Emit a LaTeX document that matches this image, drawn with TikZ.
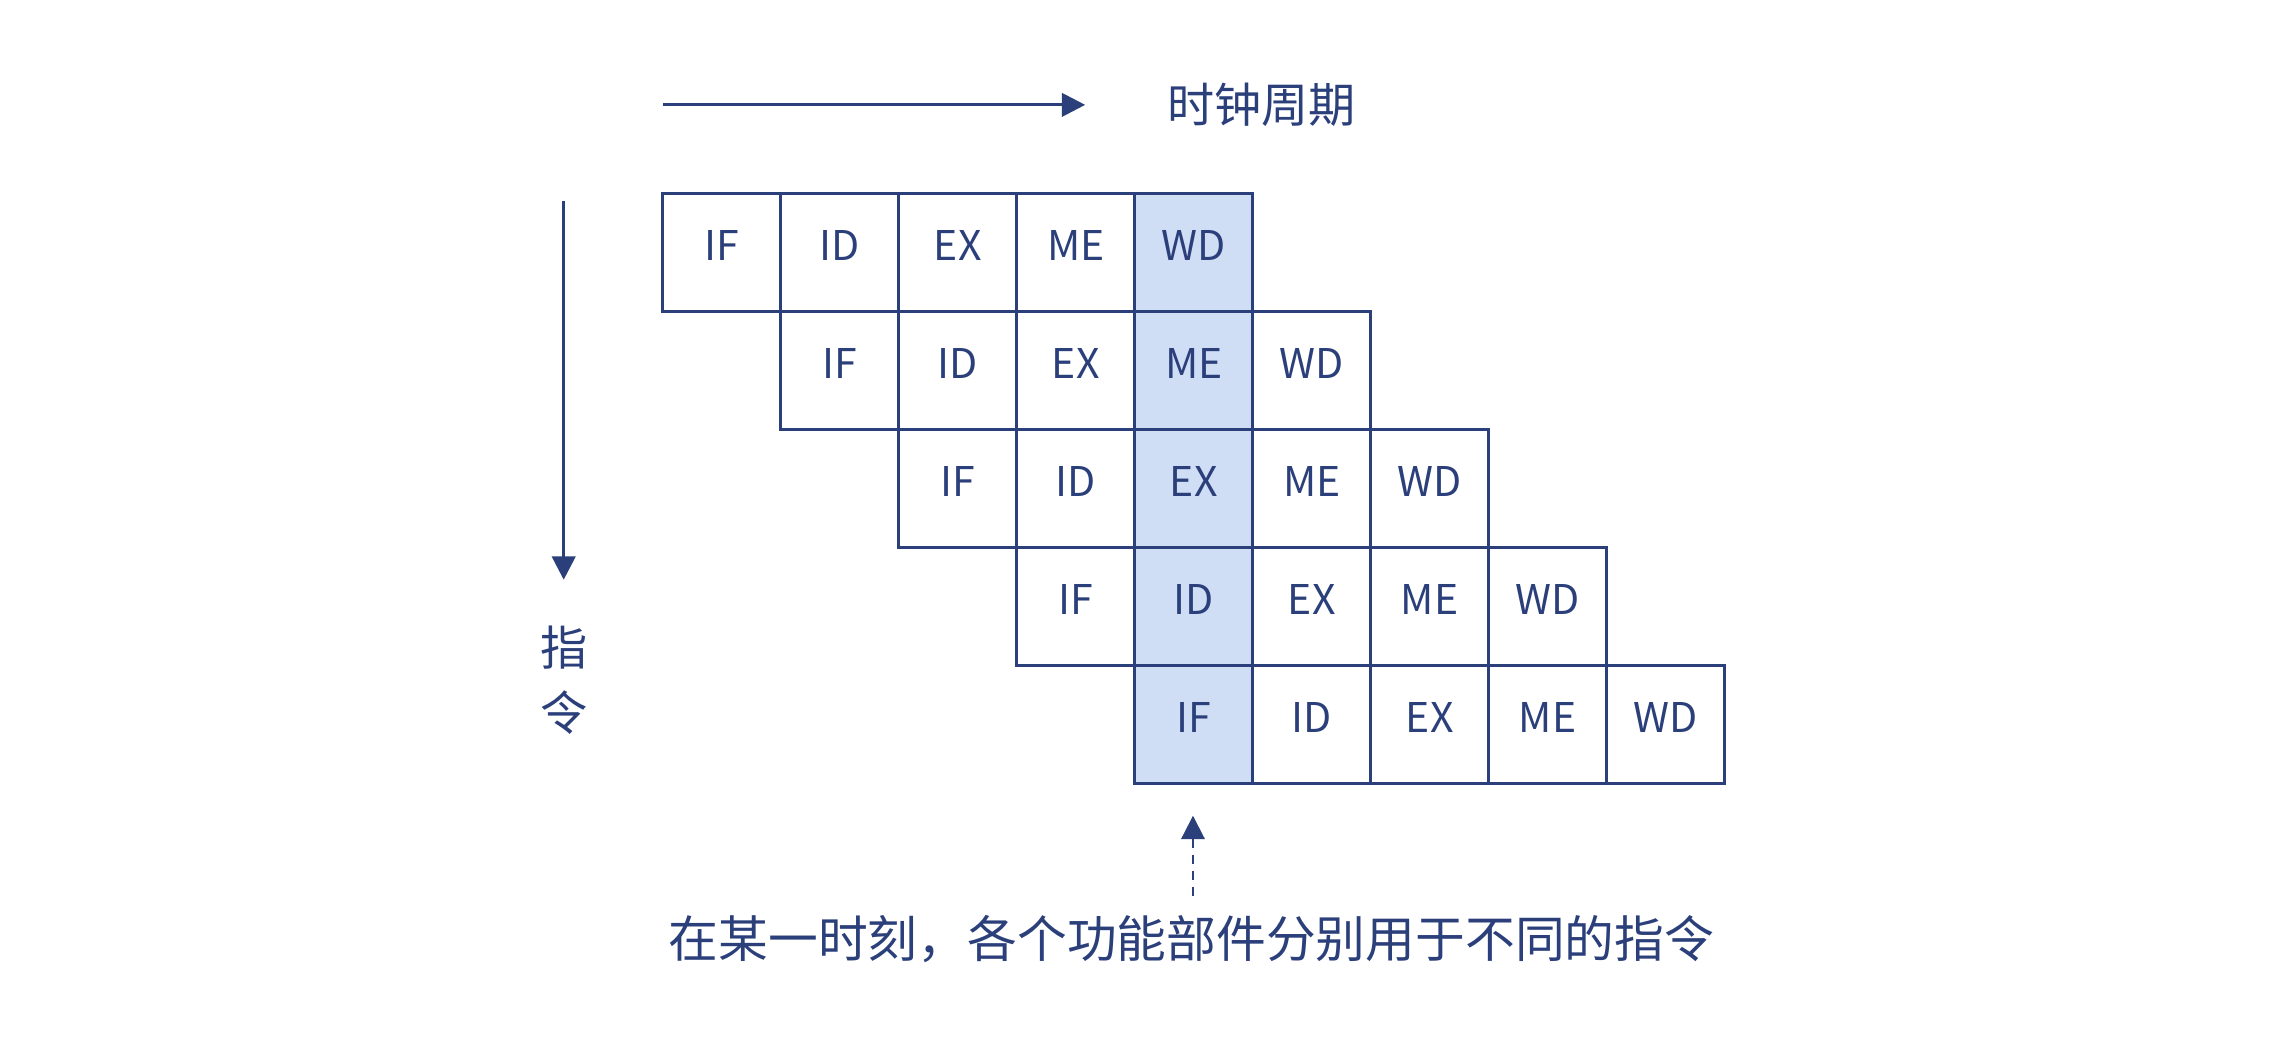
\documentclass[tikz,border=0pt]{standalone}
\usepackage{fontspec}
\setmainfont{Noto Sans CJK SC}
\usetikzlibrary{arrows.meta}
\definecolor{inkblue}{HTML}{2B3F7A}
\definecolor{nowblue}{HTML}{CFDDF5}
\tikzset{
  stage/.style={draw=inkblue,line width=1.5pt,minimum size=2.025cm,inner sep=0pt,
    text=inkblue,text depth=7pt,font=\fontsize{20}{24}\selectfont},
  now/.style={fill=nowblue},
  axis/.style={draw=inkblue,line width=1.5pt,-{Triangle[length=0.4cm,width=0.4cm]}},
  caption/.style={text=inkblue,inner sep=0pt}
}
\begin{document}
\begin{tikzpicture}[x=0.025cm,y=-0.025cm]
  \useasboundingbox (0,0) rectangle (1568,723);
  % pipeline rows
  \foreach \r in {0,...,4}{
    \foreach \s [count=\k from 0] in {IF,ID,EX,ME,WD}{
      \pgfmathtruncatemacro{\col}{\r+\k}
      \ifnum\col=4
        \node[stage,now] (c-\r-\k) at ({495.5+81*\col},{173.5+81*\r}) {\s};
      \else
        \node[stage] (c-\r-\k) at ({495.5+81*\col},{173.5+81*\r}) {\s};
      \fi
    }
  }
  % axes
  \coordinate (t0) at (455,72);
  \coordinate (t1) at (745,72);
  \node[caption,font=\fontsize{23}{28}\selectfont] (clock) at (866,72) {时钟周期};
  \draw[axis] (t0) -- (t1);
  \coordinate (i0) at (387,138);
  \coordinate (i1) at (387,398);
  \draw[axis] (i0) -- (i1);
  \node[caption,align=center,font=\fontsize{23}{32}\selectfont] (instr) at (387,467) {指\\令};
  % note
  \node[caption,font=\fontsize{24.3}{30}\selectfont] (note) at (818,645) {在某一时刻，各个功能部件分别用于不同的指令};
  \coordinate (n0) at (819,615);
  \coordinate (n1) at (819,560);
  \draw[axis,dash pattern=on 4.3pt off 3.5pt,line width=1pt] (n0) -- (n1);
\end{tikzpicture}
\end{document}
